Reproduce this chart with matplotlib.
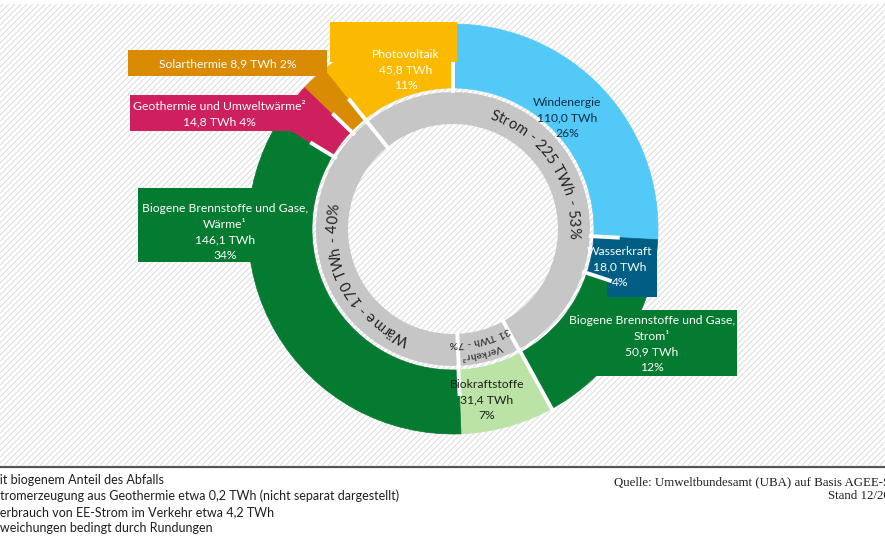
import numpy as np
import matplotlib.pyplot as plt
from matplotlib.collections import LineCollection
from matplotlib.patches import Rectangle
from matplotlib.font_manager import FontProperties

# outer ring, clockwise from 12 o'clock
sources = ["Windenergie", "Wasserkraft", "Biogene Brennstoffe und Gase,\nStrom¹", "Biokraftstoffe",
           "Biogene Brennstoffe und Gase,\nWärme¹", "Geothermie und Umweltwärme²", "Solarthermie", "Photovoltaik"]
twh = [110.0, 18.0, 50.9, 31.4, 146.1, 14.8, 8.9, 45.8]
shares = [26, 4, 12, 7, 34, 4, 2, 11]
colors = ["#52C9F7", "#005E84", "#057A31", "#BCE3A6", "#057A31", "#CE1F5E", "#D98B03", "#FBBA00"]
text_colors = ["#0E2C45", "white", "white", "#1E1E1E", "white", "white", "white", "white"]

# inner ring
sectors = ["Strom", "Verkehr³", "Wärme"]
sector_twh = [225, 31, 170]
sector_shares = [53, 7, 40]

footnotes = ["¹ mit biogenem Anteil des Abfalls",
             "² Stromerzeugung aus Geothermie etwa 0,2 TWh (nicht separat dargestellt)",
             "³ Verbrauch von EE-Strom im Verkehr etwa 4,2 TWh",
             "⁴ Abweichungen bedingt durch Rundungen"]
# part of each footnote that lies left of the picture edge
hidden = ["¹ m", "² S", "³ V", "⁴ Ab"]
source_text = "Quelle: Umweltbundesamt (UBA) auf Basis AGEE-Stat\nStand 12/2019"

FONT = "Lato"
cx, cy = 453, 229
r_out, r_in = 205, 141
g_out, g_in = 137, 105


def polar(phi, r):
    # phi in degrees, clockwise from top (screen)
    return cx + r * np.sin(np.radians(phi)), cy - r * np.cos(np.radians(phi))


def fmt(v):
    return f"{v:.1f}".replace(".", ",")


fig = plt.figure(figsize=(8.85, 5.6), dpi=100)
ax = fig.add_axes([0, 0, 1, 1])
renderer = fig.canvas.get_renderer()


def text_width(s, prop):
    return renderer.get_text_width_height_descent(s, prop, ismath=False)[0]


# hatched background
hatch_top, hatch_bot = 4, 465
segs = []
for x0 in np.arange(-470, 890, 6):
    segs.append([(x0, hatch_bot), (x0 + (hatch_bot - hatch_top), hatch_top)])
clip = Rectangle((0, hatch_top), 885, hatch_bot - hatch_top, transform=ax.transData, facecolor="none")
lc = LineCollection(segs, colors="#dedede", linewidths=0.8, zorder=0)
ax.add_collection(lc)
lc.set_clip_path(clip)

# rings (y axis is inverted later, so counterclock=True turns clockwise on screen)
wedges, _ = ax.pie(twh, colors=colors, startangle=-90, counterclock=True, center=(cx, cy), radius=r_out,
                   wedgeprops=dict(width=r_out - r_in, linewidth=0.5))
for w in wedges:
    w.set_edgecolor(w.get_facecolor())
pv_angle = twh[-1] / sum(twh) * 360
ax.pie(sector_twh, colors=["#C6C6C6"] * 3, startangle=-90 - pv_angle, counterclock=True,
       center=(cx, cy), radius=g_out, wedgeprops=dict(width=g_out - g_in, linewidth=0))

ax.set_xlim(0, 885)
ax.set_ylim(560, 0)
ax.set_aspect("auto")
ax.axis("off")

# label boxes
boxes = {7: (330, 22, 457, 62), 6: (128, 50, 327, 76), 5: (130, 95, 305, 131),
         4: (138, 188, 300, 262), 1: (607, 241, 657, 297), 2: (572, 310, 737, 376)}
for i, (x0, y0, x1, y1) in boxes.items():
    ax.add_patch(Rectangle((x0, y0), x1 - x0, y1 - y0, facecolor=colors[i], edgecolor="none", zorder=3))

# white separators
outer_b = np.concatenate([[0], np.cumsum(twh)[:-1] / sum(twh) * 360])
for i, b in enumerate(outer_b):
    r_end = r_out + 3 if i == 3 else 167
    (x0, y0), (x1, y1) = polar(b, 136), polar(b, r_end)
    ax.plot([x0, x1], [y0, y1], color="white", lw=2.8, zorder=4, solid_capstyle="butt")
inner_b = -pv_angle + np.concatenate([[0], np.cumsum(sector_twh)[:-1] / sum(sector_twh) * 360])
for b in inner_b:
    (x0, y0), (x1, y1) = polar(b, g_in - 2), polar(b, g_out + 2)
    ax.plot([x0, x1], [y0, y1], color="white", lw=2.8, zorder=4, solid_capstyle="butt")

# labels of the outer ring
label_pos = [(567, 118), (620, 267), (652, 344), (487, 400), (225, 232), (219, 114), (228, 64), (406, 70)]
for i, name in enumerate(sources):
    if i == 6:
        txt = f"{name} {fmt(twh[i])} TWh {shares[i]}%"
    elif i == 5:
        txt = f"{name}\n{fmt(twh[i])} TWh {shares[i]}%"
    else:
        txt = f"{name}\n{fmt(twh[i])} TWh\n{shares[i]}%"
    ax.text(*label_pos[i], txt, ha="center", va="center", ma="center", fontsize=8.7, family=FONT,
            color=text_colors[i], linespacing=1.5, zorder=5)


# curved text in the inner ring
def arc_text(s, phi_mid, r, size, color="#222222"):
    prop = FontProperties(family=FONT, size=size)
    base = text_width("xx", prop)
    widths = [text_width("x" + ch + "x", prop) - base for ch in s]
    phi = phi_mid - np.degrees(sum(widths) / r) / 2
    for ch, w in zip(s, widths):
        a = phi + np.degrees(w / 2 / r)
        x, y = polar(a, r)
        ax.text(x, y, ch, fontproperties=prop, color=color, rotation=-a, ha="center",
                va="baseline", rotation_mode="anchor", zorder=5)
        phi += np.degrees(w / r)


mids = inner_b + np.array(sector_twh) / sum(sector_twh) * 180
arc_text(f"{sectors[0]} - {sector_twh[0]} TWh - {sector_shares[0]}%", mids[0], 116, 10.5)
arc_text(f"{sectors[2]} - {sector_twh[2]} TWh - {sector_shares[2]}%", 242, 116, 10.5)
arc_text(sectors[1], mids[1] + 2, 125, 7.5)
arc_text(f"{sector_twh[1]} TWh - {sector_shares[1]}%", mids[1] + 2, 112, 7.5)

# bottom rule and notes
ax.plot([0, 885], [467, 467], color="#555555", lw=1.6, zorder=5)
note_prop = FontProperties(family=FONT, size=9)
for k, (line, cut) in enumerate(zip(footnotes, hidden)):
    ax.text(-text_width(cut, note_prop), 480 + k * 16, line, ha="left", va="center",
            fontproperties=note_prop, color="#1E1E1E")
ax.text(903, 489, source_text, ha="right", va="center", ma="right", fontsize=9.3,
        family="Liberation Serif", color="#1E1E1E", linespacing=1.25)

fig.savefig("out.png", dpi=100)
